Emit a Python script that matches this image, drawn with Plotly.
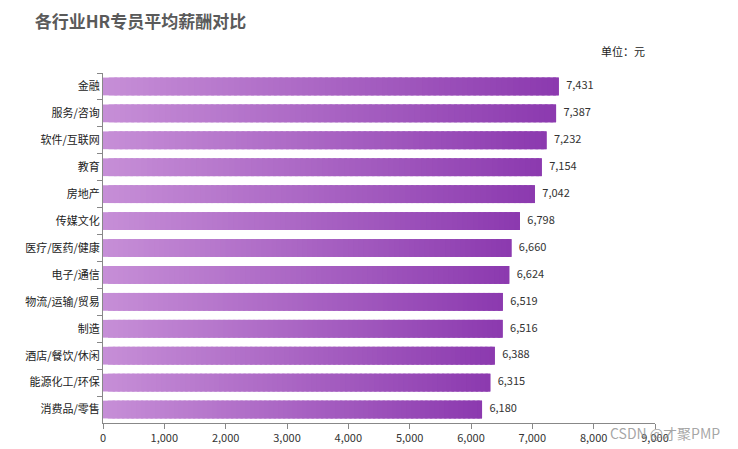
import plotly.graph_objects as go

categories = ["金融", "服务/咨询", "软件/互联网", "教育", "房地产", "传媒文化", "医疗/医药/健康",
              "电子/通信", "物流/运输/贸易", "制造", "酒店/餐饮/休闲", "能源化工/环保", "消费品/零售"]
salaries = [7431, 7387, 7232, 7154, 7042, 6798, 6660, 6624, 6519, 6516, 6388, 6315, 6180]
x_ticks = [0, 1000, 2000, 3000, 4000, 5000, 6000, 7000, 8000, 9000]

FONT = "Noto Sans CJK SC"
c0 = (198, 142, 215)
c1 = (140, 58, 175)
N = 80

ys, xs, bases, cols = [], [], [], []
for i in range(N):
    t = i / (N - 1)
    col = "rgb(%d,%d,%d)" % tuple(round(a + (b - a) * t) for a, b in zip(c0, c1))
    for c, v in zip(categories, salaries):
        ys.append(c)
        b = v * i / N
        bases.append(b)
        xs.append(min(2.5 * v / N, v - b))
        cols.append(col)

fig = go.Figure()
fig.add_trace(go.Bar(y=ys, x=xs, base=bases, orientation="h", width=0.66,
                     marker=dict(color=cols, line=dict(width=0)), hoverinfo="skip",
                     showlegend=False))
fig.add_trace(go.Scatter(y=categories, x=salaries, mode="text",
                         text=["   " + f"{v:,}" for v in salaries], textposition="middle right",
                         textfont=dict(family=FONT, size=11, color="#333"),
                         showlegend=False, hoverinfo="skip"))

fig.update_layout(
    width=738, height=449,
    margin=dict(l=103, r=83, t=73, b=26, autoexpand=False),
    plot_bgcolor="white", paper_bgcolor="white",
    barmode="overlay",
    font=dict(family=FONT, size=11, color="#333"),
    title=dict(text="<b>各行业HR专员平均薪酬对比</b>", x=0.047, xanchor="left", y=0.952, yanchor="middle",
               font=dict(family=FONT, size=17, color="#5a5a5a")),
    xaxis=dict(range=[0, 9000], tickvals=x_ticks, ticktext=[f"{v:,}" for v in x_ticks],
               automargin=False,
               showgrid=False, zeroline=False, showline=True, linecolor="#888", linewidth=1,
               ticks="outside", ticklen=5, tickcolor="#888",
               tickfont=dict(family=FONT, size=11, color="#333")),
    yaxis=dict(categoryorder="array", categoryarray=categories,
               range=[len(categories) - 0.5, -0.5],
               automargin=False,
               showgrid=False, zeroline=False, showline=True, linecolor="#888", linewidth=1,
               ticks="outside", ticklen=5, tickcolor="#888", tickson="boundaries",
               tickfont=dict(family=FONT, size=11, color="#222")),
    annotations=[
        dict(text="单位：元", xref="paper", yref="paper", x=1.0 - 0.015, y=1.0, xanchor="right",
             yanchor="bottom", yshift=12, showarrow=False,
             font=dict(family=FONT, size=11, color="#222")),
        dict(text="CSDN @才聚PMP", xref="paper", yref="paper", x=1.0, y=0, xanchor="left",
             yanchor="top", xshift=-47, yshift=2, showarrow=False,
             font=dict(family=FONT, size=14, color="rgba(150,150,150,0.85)")),
    ],
)

fig.write_html("out.html")
